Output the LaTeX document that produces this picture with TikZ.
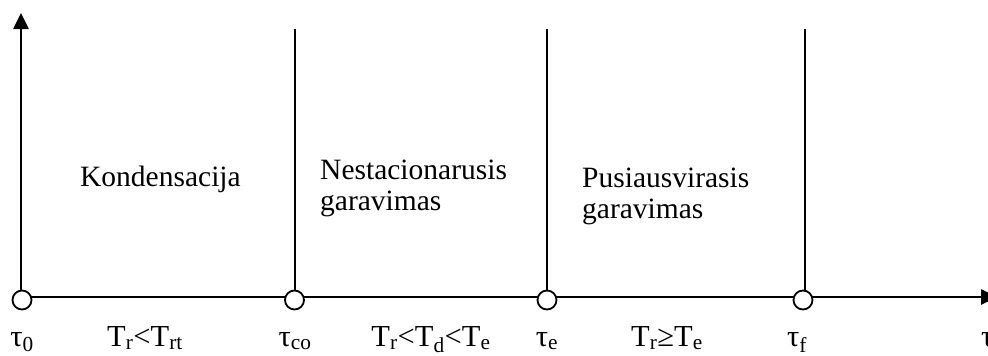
\documentclass[tikz,border=0pt]{standalone}
\usepackage{fontspec}
\setmainfont{Liberation Serif}
\usetikzlibrary{arrows.meta}
\begin{document}
\begin{tikzpicture}[x=1pt,y=-1pt,
  axis/.style={line width=2.6pt},
  arr/.style={-{Triangle[length=16pt,width=15pt]}},
  circ/.style={circle,draw,line width=1.8pt,fill=white,minimum size=19pt,inner sep=0pt},
  lbl/.style={anchor=base,font=\fontsize{30.5}{31}\selectfont,inner sep=0pt},
  phase/.style={anchor=base west,font=\fontsize{29.5}{31}\selectfont,inner sep=0pt,align=left}]
\useasboundingbox (0,0) rectangle (988,356);
% coordinates
\coordinate (ytop) at (21,13);
\coordinate (xend) at (997,297);
\coordinate (xstart) at (21,297);
\coordinate (top1) at (295,29);
\coordinate (top2) at (547,29);
\coordinate (top3) at (805,29);
\coordinate (b1) at (295,297);
\coordinate (b2) at (547,297);
\coordinate (b3) at (805,297);
% axes and lines
\draw[axis,arr] (xstart) -- (xend);
\draw[axis,arr] (xstart) -- (ytop);
\draw[axis] (b1) -- (top1);
\draw[axis] (b2) -- (top2);
\draw[axis] (b3) -- (top3);
% circles
\node[circ] (c0) at (22,300) {};
\node[circ] (c1) at (294.5,300) {};
\node[circ] (c2) at (547,300) {};
\node[circ] (c3) at (803,300) {};
% labels
\node[lbl] (t0) at (22,346) {τ\textsubscript{0}};
\node[lbl] (l1) at (145,346) {T\textsubscript{r}<T\textsubscript{rt}};
\node[lbl] (t1) at (295,346) {τ\textsubscript{co}};
\node[lbl] (l2) at (431,346) {T\textsubscript{r}<T\textsubscript{d}<T\textsubscript{e}};
\node[lbl] (t2) at (547,346) {τ\textsubscript{e}};
\node[lbl] (l3) at (667,346) {T\textsubscript{r}≥T\textsubscript{e}};
\node[lbl] (t3) at (797,346) {τ\textsubscript{f}};
\node[lbl,anchor=base west] (t4) at (981,346) {τ};
% phases (base = baseline of last line)
\node[phase] (p1) at (80,186) {Kondensacija};
\node[phase] (p2) at (320,210) {Nestacionarusis\\garavimas};
\node[phase] (p3) at (582,218) {Pusiausvirasis\\garavimas};
\end{tikzpicture}
\end{document}
